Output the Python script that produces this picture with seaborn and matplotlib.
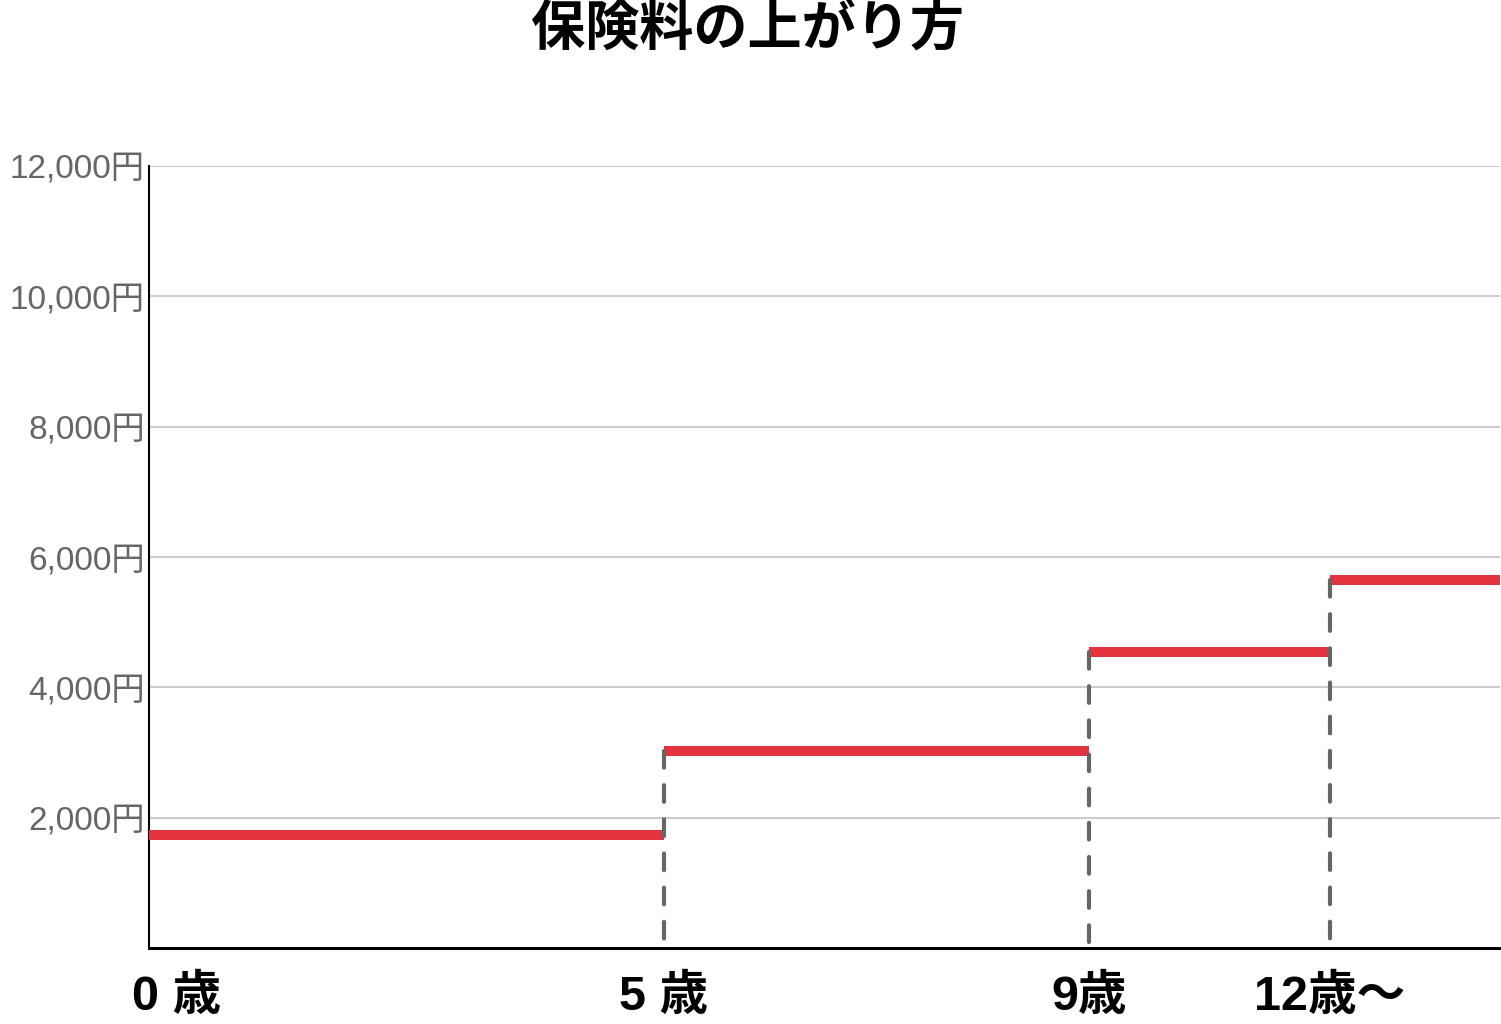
import pandas as pd
import seaborn as sns
import matplotlib.pyplot as plt
import matplotlib.transforms as mtransforms

# Data
ages = ["0 歳", "5 歳", "9歳", "12歳〜"]
# where each age sits along the x axis (percent of the axis width)
age_x = [0, 38.1, 69.6, 87.4]
x_end = 100
premium = [1730, 3020, 4540, 5650]
y_ticks = [2000, 4000, 6000, 8000, 10000, 12000]
y_labels = ["2,000円", "4,000円", "6,000円", "8,000円", "10,000円", "12,000円"]
title = "保険料の上がり方"

sns.set_theme(style="white")
plt.rcParams["font.family"] = ["Liberation Sans", "Noto Sans CJK JP"]

# Build the step segments
ends = age_x[1:] + [x_end]
rows = []
for i, (x0, x1, y) in enumerate(zip(age_x, ends, premium)):
    rows.append({"seg": i, "x": x0, "y": y})
    rows.append({"seg": i, "x": x1, "y": y})
df_steps = pd.DataFrame(rows)

# Dashed risers from the top of each new step down to zero
rows = []
for i in range(1, len(age_x)):
    rows.append({"seg": i, "x": age_x[i], "y": premium[i]})
    rows.append({"seg": i, "x": age_x[i], "y": 0})
df_rise = pd.DataFrame(rows)

fig = plt.figure(figsize=(15.01, 10.24), dpi=100)
ax = fig.add_axes([149 / 1501, 76 / 1024, (1500 - 149) / 1501, (948 - 166) / 1024])

sns.lineplot(data=df_steps, x="x", y="y", units="seg", estimator=None, sort=False,
             color="#E2333F", linewidth=7.2, solid_capstyle="butt", ax=ax, zorder=3)
sns.lineplot(data=df_rise, x="x", y="y", units="seg", estimator=None, sort=False,
             color="#666666", linewidth=3.0, dashes=False, ax=ax, zorder=4,
             linestyle=(0, (4, 4.2)), dash_capstyle="round")

ax.set_xlim(0, x_end)
ax.set_ylim(0, 12000)
ax.set_yticks(y_ticks)
ax.set_yticklabels(y_labels)
ax.set_xticks(age_x)
ax.set_xticklabels(ages)
ax.set_xlabel("")
ax.set_ylabel("")

ax.yaxis.grid(True, color="#CCCCCC", linewidth=1.5)
ax.xaxis.grid(False)
ax.tick_params(axis="y", length=0, pad=3, labelsize=24, labelcolor="#666666")
ax.tick_params(axis="x", length=0, pad=19, labelsize=35)
for lab in ax.get_xticklabels():
    lab.set_fontweight("bold")
    lab.set_color("black")
first = ax.get_xticklabels()[0]
first.set_horizontalalignment("left")
first.set_transform(first.get_transform() + mtransforms.ScaledTranslation(-17 / 100, 0, fig.dpi_scale_trans))

for side in ["top", "right"]:
    ax.spines[side].set_visible(False)
ax.spines["left"].set_color("black")
ax.spines["left"].set_linewidth(1.5)
ax.spines["bottom"].set_color("black")
ax.spines["bottom"].set_linewidth(2.2)

fig.text(0.498, 1 - 30 / 1024, title, ha="center", va="center",
         fontsize=39, fontweight="bold", color="black")

fig.savefig("out.png", dpi=100)
